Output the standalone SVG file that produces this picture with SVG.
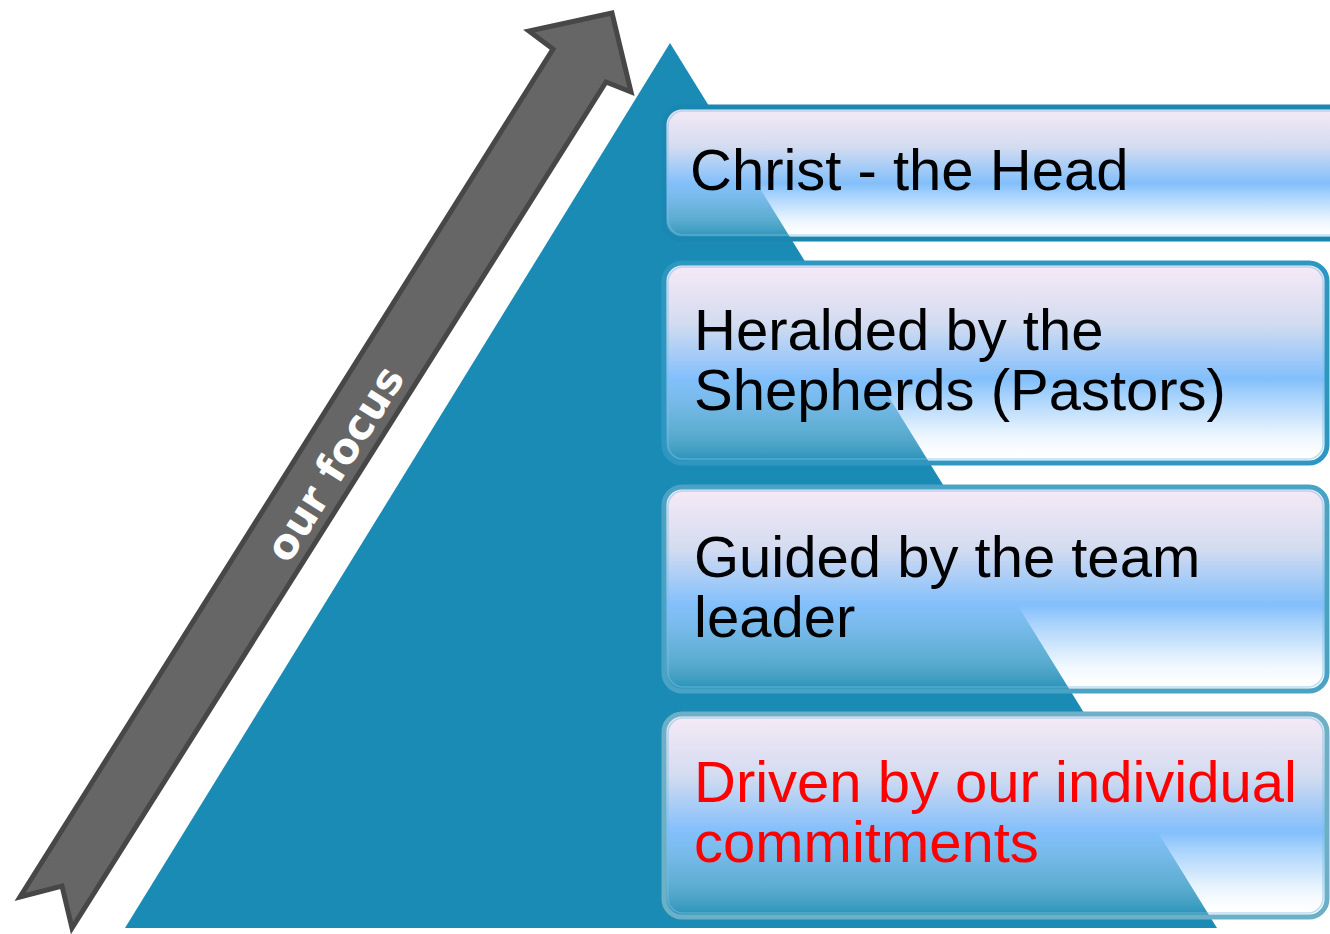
<svg xmlns="http://www.w3.org/2000/svg" width="1330" height="934" viewBox="0 0 1330 934">
  <defs>
    <linearGradient id="boxFill" x1="0" y1="0" x2="0" y2="1">
      <stop offset="0" stop-color="#f7eaf7" stop-opacity="1"/>
      <stop offset="0.3" stop-color="#d4dcf0" stop-opacity="1"/>
      <stop offset="0.58" stop-color="#82bffb" stop-opacity="1"/>
      <stop offset="0.78" stop-color="#a6d2fb" stop-opacity="0.55"/>
      <stop offset="1" stop-color="#ffffff" stop-opacity="0.04"/>
    </linearGradient>
    <style>
      .box { fill: url(#boxFill); stroke-width: 5; }
      .inner { fill: none; stroke: #7cc0e4; stroke-opacity: 0.5; stroke-width: 1.5; }
      .label { font-family: "Liberation Sans", Arial, sans-serif; font-size: 58px; fill: #000000; }
      .red { fill: #ff0000; }
      .focus { font-family: "DejaVu Sans", Verdana, sans-serif; font-size: 42px; font-weight: bold; fill: #ffffff; }
    </style>
  </defs>

  <g id="pyramid">
    <polygon points="670,43 1217,928 125,928" fill="#1a8bb5"/>
  </g>

  <g id="focus-arrow">
    <path d="M612,13 L631,92 L606,82 L72,928 L62,886 L20,897 L553,49 L529,31 Z" fill="#666666" stroke="#474747" stroke-width="5" stroke-linejoin="miter"/>
    <text class="focus" text-anchor="middle" transform="translate(337,465) rotate(-58)" y="12">our focus</text>
  </g>

  <g id="level-1">
    <rect class="box" x="664" y="107" width="700" height="132" rx="18" ry="18" stroke="#1a86b2"/>
    <rect class="inner" x="668" y="111" width="692" height="124" rx="15" ry="15"/>
    <text class="label" x="690" y="190">Christ - the Head</text>
  </g>

  <g id="level-2">
    <rect class="box" x="664" y="263" width="663" height="200" rx="18" ry="18" stroke="#2e97c1"/>
    <rect class="inner" x="668" y="267" width="655" height="192" rx="15" ry="15"/>
    <text class="label" x="694" y="350">Heralded by the</text>
    <text class="label" x="694" y="410">Shepherds (Pastors)</text>
  </g>

  <g id="level-3">
    <rect class="box" x="664" y="487" width="663" height="204" rx="18" ry="18" stroke="#4aa2c4"/>
    <rect class="inner" x="668" y="491" width="655" height="196" rx="15" ry="15"/>
    <text class="label" x="694" y="577">Guided by the team</text>
    <text class="label" x="694" y="637">leader</text>
  </g>

  <g id="level-4">
    <rect class="box" x="664" y="714" width="663" height="203" rx="18" ry="18" stroke="#6cb0c8"/>
    <rect class="inner" x="668" y="718" width="655" height="195" rx="15" ry="15"/>
    <text class="label red" x="694" y="802">Driven by our individual</text>
    <text class="label red" x="694" y="862">commitments</text>
  </g>
</svg>
